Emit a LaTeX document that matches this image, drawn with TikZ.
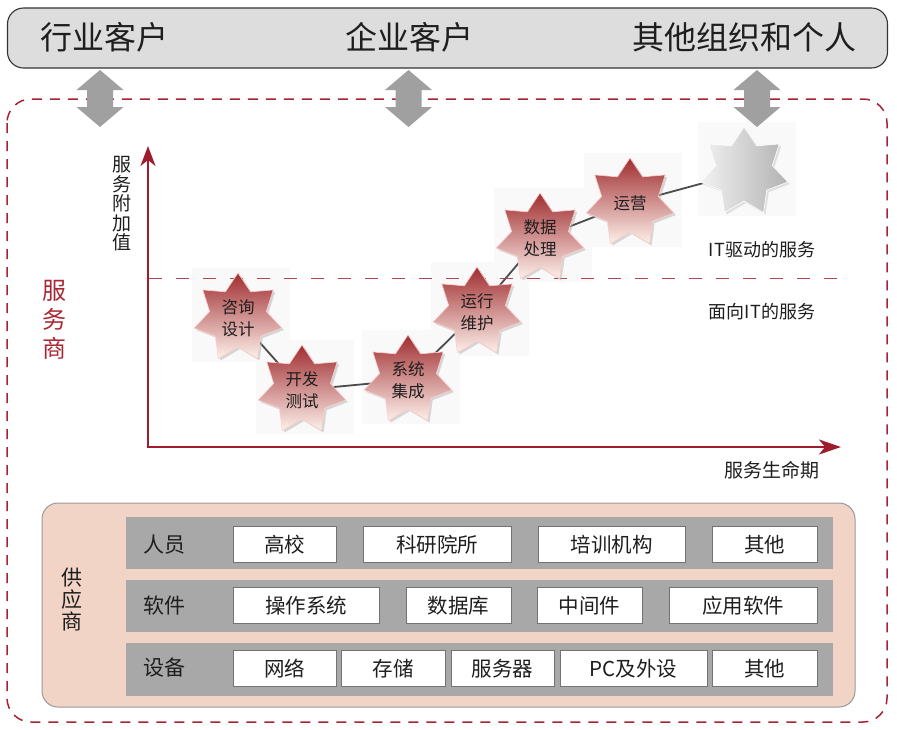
\documentclass[tikz,border=0pt]{standalone}
\usepackage{fontspec}
\setmainfont{Noto Sans CJK SC}
\usetikzlibrary{shapes.geometric,arrows.meta,shadows,backgrounds}
\definecolor{axisred}{RGB}{158,28,44}
\definecolor{dashred}{RGB}{165,35,50}
\definecolor{labred}{RGB}{168,40,52}
\definecolor{topgray}{RGB}{221,221,221}
\definecolor{arrgray}{RGB}{160,160,160}
\definecolor{peach}{RGB}{242,212,199}
\definecolor{bandgray}{RGB}{168,168,168}
\definecolor{starTop}{RGB}{160,45,48}
\definecolor{starMid}{RGB}{215,130,118}
\definecolor{starBot}{RGB}{253,240,234}
\definecolor{txt}{RGB}{30,30,30}
\begin{document}
\begin{tikzpicture}[x=1pt,y=-1pt,
  every node/.style={text=txt},
  f/.style={font=\fontsize{#1}{#1}\selectfont},
  topbox/.style={draw=black!80, line width=1.1pt, fill=topgray, rounded corners=16pt, minimum width=880pt, minimum height=60pt, inner sep=0pt},
  dashbox/.style={draw=dashred, line width=1.5pt, dash pattern=on 10pt off 8pt, rounded corners=24pt},
  axis/.style={draw=axisred, line width=2.4pt},
  dashline/.style={draw=dashred!85, line width=1pt, dash pattern=on 13pt off 14pt},
  starbox/.style={star, star points=7, star point ratio=1.55, minimum size=90pt, inner sep=0pt,
     draw=white!80!red, line width=0.6pt, top color=starTop, middle color=starMid, bottom color=starBot,
     drop shadow={shadow xshift=2pt, shadow yshift=-2pt, fill=black!30}},
  graystar/.style={star, star points=7, star point ratio=1.55, minimum size=90pt, inner sep=0pt,
     draw=white, line width=0.6pt, left color=black!5, right color=black!30,
     drop shadow={shadow xshift=2pt, shadow yshift=-2pt, fill=black!22}},
  startext/.style={align=center, font=\fontsize{16.5}{22}\selectfont, inner sep=0pt},
  link/.style={draw=black!70, line width=1.8pt},
  faint/.style={fill=black!2.5},
  supbox/.style={draw=black!40, line width=1pt, fill=peach, rounded corners=16pt},
  band/.style={fill=bandgray},
  wbox/.style={draw=black!55, line width=0.8pt, fill=white, minimum height=36pt, inner sep=0pt, font=\fontsize{20.5}{20.5}\selectfont},
  rowlab/.style={font=\fontsize{21}{21}\selectfont},
  pics/dblarrow/.style={code={
    \fill[arrgray] (0,-28.5) -- (23.5,-8.5) -- (13,-8.5) -- (13,8.5) -- (23.5,8.5) -- (0,28.5)
      -- (-23.5,8.5) -- (-13,8.5) -- (-13,-8.5) -- (-23.5,-8.5) -- cycle;}}
]
\useasboundingbox (0,0) rectangle (897,729);

% customers bar
\node[topbox] (cust) at (447.5,38) {};
\node[f=32] (c1) at (104,37) {行业客户};
\node[f=32] (c2) at (409,37) {企业客户};
\node[f=32] (c3) at (744,37) {其他组织和个人};

% service provider dashed area
\draw[dashbox] (7,99) rectangle (887,722);

% double arrows
\pic at (100,98.5) {dblarrow};
\pic at (408.5,98.5) {dblarrow};
\pic at (757,98.5) {dblarrow};

\node[text=labred, align=center, font=\fontsize{24}{29}\selectfont] (prov) at (54,320) {服\\务\\商};

% axes
\coordinate (O) at (148,447);
\coordinate (ytop) at (148,146);
\coordinate (xend) at (841,447);
\draw[axis, {Stealth[length=20pt,width=15pt,inset=6pt]}-{Stealth[length=22pt,width=15pt,inset=6pt]}] (ytop) -- (O) -- (xend);
\node[align=center, font=\fontsize{19}{19.5}\selectfont] (ylab) at (122,204) {服\\务\\附\\加\\值};
\node[f=19] (xlab) at (772,470) {服务生命期};

\coordinate (d1) at (149,278);
\coordinate (d2) at (842,278);
\draw[dashline] (d1) -- (d2);
\node[f=18] (it1) at (762,250) {IT驱动的服务};
\node[f=18] (it2) at (762,312) {面向IT的服务};

% stars
\node[starbox] (s1) at (238,318) {};
\node[starbox] (s2) at (302,390) {};
\node[starbox] (s3) at (408,380) {};
\node[starbox] (s4) at (477,312) {};
\node[starbox] (s5) at (540,238) {};
\node[starbox] (s6) at (630,203) {};
\node[graystar] (s7) at (744,172) {};
\node[startext] at (s1) {咨询\\设计};
\node[startext] at (s2) {开发\\测试};
\node[startext] at (s3) {系统\\集成};
\node[startext] at (s4) {运行\\维护};
\node[startext] at (s5) {数据\\处理};
\node[startext] at (s6) {运营};

\begin{scope}[on background layer]
  \foreach \n in {s1,s2,s3,s4,s5,s6,s7}{
    \fill[faint] ([shift={(-46pt,-44pt)}]\n.center) rectangle ([shift={(52pt,50pt)}]\n.center);
  }
  \draw[link] (s1.center) -- (s2.center) -- (s3.center) -- (s4.center) -- (s5.center) -- (s6.center) -- (s7.center);
\end{scope}

% suppliers
\draw[supbox] (42,503) rectangle (855,707);
\node[align=center, font=\fontsize{21}{22}\selectfont] (sup) at (72,600) {供\\应\\商};
\fill[band] (126,517) rectangle (833,569);
\fill[band] (126,580) rectangle (833,632);
\fill[band] (126,643) rectangle (833,696);
\node[rowlab] (r1) at (164.5,545) {人员};
\node[rowlab] (r2) at (164.5,606) {软件};
\node[rowlab] (r3) at (164.5,668) {设备};

\node[wbox, minimum width=103pt] (b11) at (284.5,544.5) {高校};
\node[wbox, minimum width=148pt] (b12) at (437,544.5) {科研院所};
\node[wbox, minimum width=147pt] (b13) at (611.5,544.5) {培训机构};
\node[wbox, minimum width=105pt] (b14) at (764.5,544.5) {其他};

\node[wbox, minimum width=146pt] (b21) at (306,605.5) {操作系统};
\node[wbox, minimum width=105pt] (b22) at (458.5,605.5) {数据库};
\node[wbox, minimum width=105pt] (b23) at (589.5,605.5) {中间件};
\node[wbox, minimum width=148pt] (b24) at (743,605.5) {应用软件};

\node[wbox, minimum width=103pt] (b31) at (284.5,668.5) {网络};
\node[wbox, minimum width=104pt] (b32) at (393,668.5) {存储};
\node[wbox, minimum width=103pt] (b33) at (502.5,668.5) {服务器};
\node[wbox, minimum width=147pt] (b34) at (633.5,668.5) {PC及外设};
\node[wbox, minimum width=105pt] (b35) at (764.5,668.5) {其他};
\end{tikzpicture}
\end{document}
